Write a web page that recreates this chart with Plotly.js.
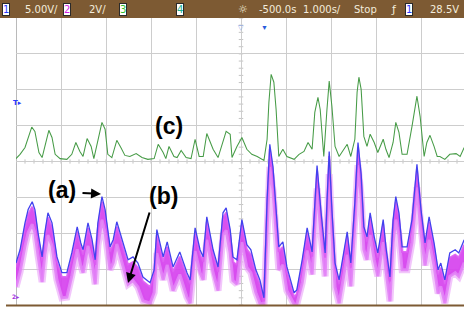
<!DOCTYPE html>
<html>
<head>
<meta charset="utf-8">
<script src="https://cdn.plot.ly/plotly-3.0.1.min.js"></script>
<style>html,body{margin:0;padding:0;background:#fff;overflow:hidden}#chart{width:464px;height:314px}</style>
</head>
<body>
<div id="chart"></div>
<script>
// Time in divisions (1.000 s/div), amplitude in divisions from the bottom of the screen
const greenTime = [0.00,0.09,0.20,0.35,0.42,0.51,0.58,0.69,0.73,0.80,0.87,0.98,1.13,1.24,1.33,1.42,1.49,1.58,1.67,1.73,1.82,1.91,1.98,2.04,2.13,2.24,2.33,2.42,2.53,2.67,2.80,2.93,3.07,3.16,3.27,3.33,3.40,3.51,3.58,3.67,3.78,3.89,3.98,4.07,4.16,4.24,4.38,4.49,4.67,4.76,4.80,4.91,5.02,5.13,5.24,5.36,5.51,5.58,5.62,5.67,5.73,5.78,5.84,5.93,6.02,6.18,6.29,6.40,6.49,6.58,6.64,6.71,6.76,6.84,6.91,6.96,7.02,7.09,7.18,7.29,7.36,7.44,7.53,7.58,7.62,7.67,7.73,7.80,7.87,7.96,8.04,8.16,8.22,8.29,8.38,8.44,8.51,8.58,8.69,8.80,8.91,8.98,9.07,9.13,9.20,9.29,9.36,9.42,9.53,9.64,9.78,9.87,9.96];
const greenValue = [4.08,4.20,4.39,4.96,4.84,4.25,4.11,4.62,4.87,4.67,4.20,4.08,4.06,4.20,4.53,4.28,4.14,4.64,4.42,4.08,4.62,5.09,4.90,4.20,4.11,4.59,4.39,4.17,4.14,4.22,4.11,4.06,4.08,4.48,4.25,4.08,4.42,4.14,4.11,4.31,4.11,4.08,4.62,4.14,4.14,4.78,4.34,4.11,4.84,4.76,4.11,4.42,4.67,4.34,4.20,4.14,4.03,4.62,5.65,6.43,6.21,5.45,4.14,4.34,4.14,4.06,4.20,4.28,4.53,4.34,5.37,5.79,5.45,4.14,5.45,6.24,5.54,4.42,4.14,4.34,4.48,4.14,4.62,5.93,6.35,6.01,4.70,4.42,4.76,4.53,4.25,4.62,4.34,4.11,4.53,5.09,4.81,4.20,4.20,4.98,5.82,5.26,4.14,4.53,4.73,4.42,4.14,4.14,4.06,4.20,4.22,4.14,4.39];

const blueTime = [0.00,0.09,0.20,0.27,0.36,0.42,0.49,0.58,0.64,0.71,0.80,0.91,1.02,1.13,1.24,1.36,1.44,1.49,1.60,1.69,1.76,1.82,1.91,1.98,2.09,2.16,2.24,2.36,2.49,2.60,2.71,2.82,2.98,3.07,3.13,3.27,3.36,3.49,3.64,3.80,3.87,3.98,4.09,4.16,4.24,4.38,4.49,4.60,4.67,4.76,4.82,4.91,5.02,5.13,5.22,5.33,5.42,5.51,5.58,5.64,5.71,5.78,5.84,5.93,6.02,6.18,6.24,6.36,6.47,6.58,6.64,6.69,6.78,6.87,6.91,6.96,7.02,7.09,7.18,7.29,7.36,7.44,7.53,7.60,7.67,7.73,7.80,7.87,7.96,8.04,8.16,8.22,8.31,8.38,8.44,8.51,8.58,8.69,8.80,8.91,9.00,9.09,9.18,9.29,9.38,9.44,9.53,9.64,9.76,9.84,9.96];
const blueValue = [1.17,1.54,2.29,2.66,2.88,2.66,2.01,1.34,2.01,2.57,2.29,1.34,0.90,0.90,1.45,2.18,1.73,1.54,2.29,1.82,1.26,2.29,3.02,2.66,1.62,1.82,2.32,1.82,1.26,1.34,1.17,0.78,0.62,0.98,2.10,1.34,1.76,1.06,1.48,0.90,0.70,2.15,1.54,1.34,2.46,1.54,1.06,2.57,2.71,2.10,1.34,1.26,2.38,1.68,1.54,0.98,0.70,0.20,2.94,4.48,3.86,2.66,1.62,1.76,1.06,0.34,0.42,1.26,2.15,1.48,3.02,3.89,2.57,1.45,2.85,4.28,2.66,1.17,0.70,1.54,2.04,1.17,2.85,4.53,3.64,2.18,1.90,2.57,1.90,1.45,2.38,1.62,0.78,2.38,3.02,2.57,1.62,1.62,2.38,3.92,2.66,1.73,2.46,1.73,0.98,1.17,0.70,1.45,1.54,1.45,1.82];

// channel 2 (b) is a noisy band: its upper and lower envelopes
const magentaTime = blueTime;
const magentaHigh = [1.05,1.42,2.15,2.52,2.74,2.52,1.88,1.22,1.88,2.44,2.15,1.20,0.78,0.78,1.32,2.05,1.60,1.40,2.15,1.68,1.12,2.15,2.88,2.52,1.48,1.68,2.18,1.68,1.12,1.20,1.04,0.66,0.50,0.85,1.95,1.20,1.62,0.92,1.35,0.78,0.58,2.02,1.40,1.20,2.32,1.40,0.92,2.44,2.58,1.96,1.20,1.12,2.25,1.55,1.40,0.85,0.58,0.10,2.80,4.35,3.72,2.52,1.48,1.62,0.92,0.22,0.30,1.12,2.02,1.35,2.88,3.75,2.44,1.32,2.72,4.15,2.52,1.04,0.58,1.40,1.90,1.04,2.72,4.40,3.50,2.05,1.76,2.44,1.76,1.32,2.25,1.48,0.66,2.25,2.88,2.44,1.48,1.48,2.25,3.78,2.52,1.60,2.32,1.60,0.85,1.04,0.58,1.32,1.40,1.32,1.68];
const magentaLow = [0.50,0.92,1.65,2.02,2.25,2.02,1.38,0.64,1.40,1.95,1.65,0.70,0.20,0.22,0.82,1.55,1.10,0.90,1.65,1.20,0.58,1.65,2.38,2.02,0.98,1.18,1.70,1.18,0.58,0.68,0.50,0.12,0.05,0.35,1.45,0.70,1.12,0.40,0.85,0.22,0.05,1.50,0.90,0.70,1.82,0.90,0.40,1.95,2.08,1.45,0.68,0.58,1.75,1.05,0.90,0.35,0.05,0.02,2.25,3.85,3.20,2.02,0.98,1.12,0.40,0.02,0.02,0.62,1.52,0.85,2.38,3.25,1.95,0.80,2.22,3.65,2.02,0.50,0.05,0.90,1.40,0.52,2.22,3.90,3.00,1.55,1.26,1.95,1.26,0.80,1.75,0.98,0.10,1.75,2.38,1.95,0.98,0.98,1.75,3.28,2.02,1.10,1.82,1.10,0.32,0.52,0.05,0.80,0.90,0.80,1.18];

const headerLabels = ["5.00V/","2V/","-500.0s","1.000s/","Stop","28.5V"];
const traceLabels = ["(a)","(b)","(c)"];

// ---- layout helpers (pixel -> coordinates) ----
const L = 16, T = 18, W = 448, H = 287;
const px = p => (p - L) / 45;
const py = p => (305 - p) / 35.875;
const paperX = p => (p - L) / W;
const paperY = p => (305 - p) / H;
const brown = '#7d5a33';
const headText = '#f3ecdc';

const traces = [
  {x: magentaTime, y: magentaLow, mode: 'lines', line: {color: 'rgba(234,160,248,0.6)', width: 7}, hoverinfo: 'skip'},
  {x: magentaTime, y: magentaLow, mode: 'lines', line: {color: 'rgba(226,130,246,0.9)', width: 3}, hoverinfo: 'skip'},
  {x: magentaTime, y: magentaHigh, mode: 'lines', fill: 'tonexty', fillcolor: 'rgba(214,66,238,0.92)', line: {color: 'rgba(220,90,242,0.9)', width: 2}, hoverinfo: 'skip'},
  {x: blueTime, y: blueValue, mode: 'lines', line: {color: 'rgb(66,66,238)', width: 1.3}, hoverinfo: 'skip'},
  {x: greenTime, y: greenValue, mode: 'lines', line: {color: 'rgb(70,155,70)', width: 1.05}, hoverinfo: 'skip'}
];

const shapes = [
  {type: 'rect', xref: 'paper', yref: 'paper', x0: paperX(-2), x1: paperX(466), y0: 1, y1: paperY(-2), fillcolor: brown, line: {width: 0}, layer: 'above'},
  {type: 'line', xref: 'paper', yref: 'paper', x0: paperX(6), x1: paperX(466), y0: paperY(305.5), y1: paperY(305.5), line: {color: brown, width: 2}, layer: 'above'},
  {type: 'line', xref: 'x', yref: 'paper', x0: 0, x1: 0, y0: paperY(306), y1: 1, line: {color: '#8c8c8c', width: 1.2}, layer: 'below'}
];
// minor ticks on centre graticule lines
for (let i = 0; i <= 50; i++) {
  const xv = i * 0.2;
  if (xv > 9.96) break;
  shapes.push({type: 'line', xref: 'x', yref: 'y', x0: xv, x1: xv, y0: 4 - 0.06, y1: 4 + 0.06, line: {color: '#c4c4c4', width: 1}, layer: 'below'});
}
for (let i = 0; i <= 40; i++) {
  const yv = i * 0.2;
  shapes.push({type: 'line', xref: 'x', yref: 'y', x0: 5 - 0.05, x1: 5 + 0.05, y0: yv, y1: yv, line: {color: '#c4c4c4', width: 1}, layer: 'below'});
}

const hdrY = paperY(9);
const ann = [];
function box(xc, txt, col) {
  ann.push({xref: 'paper', yref: 'paper', x: paperX(xc), y: hdrY, text: txt, showarrow: false, xanchor: 'center', yanchor: 'middle',
    font: {family: 'DejaVu Sans', size: 10, color: col}, bgcolor: '#ffffff', bordercolor: '#2a2a2a', borderwidth: 1, borderpad: 0});
}
function htxt(xl, txt, size) {
  ann.push({xref: 'paper', yref: 'paper', x: paperX(xl), y: hdrY, text: txt, showarrow: false, xanchor: 'left', yanchor: 'middle',
    font: {family: 'DejaVu Sans', size: size || 10, color: headText}});
}
box(6, '1', '#2a3cff');
htxt(23, headerLabels[0]);
box(66.5, '2', '#d21ee6');
htxt(87, headerLabels[1]);
box(123, '3', '#30c030');
box(179.5, '4', '#20b090');
htxt(236, '☼', 11);
htxt(257, headerLabels[2]);
htxt(301, headerLabels[3]);
htxt(352, headerLabels[4]);
htxt(389, 'ƒ', 11);
box(409, '1', '#2a3cff');
htxt(428, headerLabels[5]);

// small screen markers
ann.push({xref: 'paper', yref: 'paper', x: paperX(264), y: paperY(21), text: '▼', showarrow: false, font: {size: 7, color: '#2a5adc'}});
ann.push({xref: 'paper', yref: 'paper', x: paperX(241), y: paperY(21), text: '▽', showarrow: false, font: {size: 7, color: '#7fa0e8'}});
ann.push({xref: 'paper', yref: 'paper', x: paperX(11), y: paperY(97), text: '<b>T</b>▸', showarrow: false, font: {family: 'DejaVu Sans', size: 7, color: '#2a3cff'}});
ann.push({xref: 'paper', yref: 'paper', x: paperX(10), y: paperY(302), text: '<b>2</b>▸', showarrow: false, font: {family: 'DejaVu Sans', size: 6, color: '#a030e0'}});

// trace labels
const lblFont = {family: 'Liberation Sans', size: 23, color: '#000'};
ann.push({x: px(62), y: py(190), text: '<b>' + traceLabels[0] + '</b>', showarrow: false, font: lblFont});
ann.push({x: px(163), y: py(196), text: '<b>' + traceLabels[1] + '</b>', showarrow: false, font: lblFont});
ann.push({x: px(169), y: py(126), text: '<b>' + traceLabels[2] + '</b>', showarrow: false, font: lblFont});
ann.push({x: px(101), y: py(194), ax: -20, ay: -1, text: '', showarrow: true, arrowhead: 2, arrowsize: 1, arrowwidth: 2, arrowcolor: '#000'});
ann.push({x: px(128), y: py(283), ax: 22, ay: -72, text: '', showarrow: true, arrowhead: 2, arrowsize: 1, arrowwidth: 2, arrowcolor: '#000'});

const layout = {
  width: 464, height: 314,
  margin: {l: L, r: 0, t: T, b: 314 - 305, pad: 0},
  paper_bgcolor: '#ffffff', plot_bgcolor: '#ffffff',
  showlegend: false,
  xaxis: {range: [0, W / 45], dtick: 1, tick0: 0, showgrid: true, gridcolor: '#cdcdcd', gridwidth: 1, zeroline: false, showticklabels: false, ticks: '', showline: false, fixedrange: true},
  yaxis: {range: [0, 8], dtick: 1, tick0: 0, showgrid: true, gridcolor: '#cdcdcd', gridwidth: 1, zeroline: false, showticklabels: false, ticks: '', showline: false, fixedrange: true},
  shapes: shapes,
  annotations: ann
};

Plotly.newPlot('chart', traces, layout, {staticPlot: true, displayModeBar: false});
</script>
</body>
</html>
